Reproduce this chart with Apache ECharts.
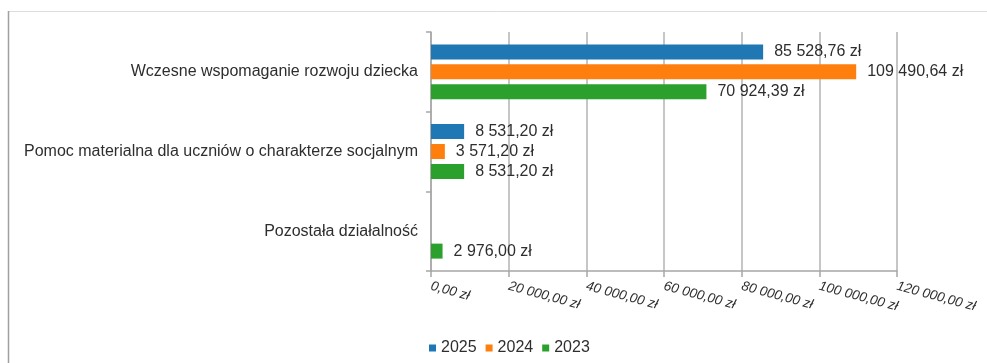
<!DOCTYPE html>
<html>
<head>
<meta charset="utf-8">
<script src="https://cdn.jsdelivr.net/npm/echarts@6/dist/echarts.min.js"></script>
<style>
  html, body { margin: 0; padding: 0; background: #ffffff; }
  #chart { width: 987px; height: 363px; }
</style>
</head>
<body>
<div id="chart"></div>
<script>
// Categories (top to bottom)
const categories = [
  'Wczesne wspomaganie rozwoju dziecka',
  'Pomoc materialna dla uczniów o charakterze socjalnym',
  'Pozostała działalność'
];

// Amounts per year, in zł
const years = ['2025', '2024', '2023'];
const values2025 = [85528.76, 8531.20, null];
const values2024 = [109490.64, 3571.20, null];
const values2023 = [70924.39, 8531.20, 2976.00];

const yearColors = ['#1f77b4', '#ff7f0e', '#2ca02c'];

// Value axis range
const axisMin = 0;
const axisMax = 120000;
const axisStep = 20000;

// Polish currency format: "85 528,76 zł"
function formatPLN(v) {
  const fixed = Number(v).toFixed(2);
  const parts = fixed.split('.');
  const intPart = parts[0].replace(/\B(?=(\d{3})+(?!\d))/g, ' ');
  return intPart + ',' + parts[1] + ' zł';
}

const textColor = '#2e2e2e';
const font = 'Liberation Sans, Arial, sans-serif';

const seriesData = [values2025, values2024, values2023];

const chart = echarts.init(document.getElementById('chart'), null, { renderer: 'canvas' });

chart.setOption({
  animation: false,
  backgroundColor: '#ffffff',
  textStyle: { fontFamily: font },
  graphic: [
    {
      type: 'line',
      shape: { x1: 8, y1: 11.5, x2: 987, y2: 11.5 },
      style: { stroke: '#dddddd', lineWidth: 1 },
      silent: true
    },
    {
      type: 'line',
      shape: { x1: 8.5, y1: 11, x2: 8.5, y2: 363 },
      style: { stroke: '#a0a0a0', lineWidth: 1.5 },
      silent: true
    }
  ],
  legend: {
    data: years,
    left: 424,
    top: 335,
    icon: 'rect',
    itemWidth: 7,
    itemHeight: 7,
    itemGap: 9,
    textStyle: { fontSize: 16, color: textColor, fontFamily: font }
  },
  grid: {
    left: 431,
    top: 32,
    width: 466,
    height: 239,
    containLabel: false
  },
  xAxis: {
    type: 'value',
    min: axisMin,
    max: axisMax,
    interval: axisStep,
    axisLine: { show: true, lineStyle: { color: '#a6a6a6', width: 1.5 } },
    axisTick: { show: true, length: 6, lineStyle: { color: '#a6a6a6', width: 1.5 } },
    splitLine: { show: true, lineStyle: { color: '#b3b3b3', width: 1.5 } },
    axisLabel: {
      rotate: -15,
      margin: 15,
      fontSize: 13.5,
      fontStyle: 'italic',
      color: textColor,
      fontFamily: font,
      formatter: function (v) { return formatPLN(v); }
    }
  },
  yAxis: {
    type: 'category',
    data: categories,
    inverse: true,
    axisLine: { show: true, lineStyle: { color: '#a6a6a6', width: 1.5 } },
    axisTick: { show: true, length: 5, lineStyle: { color: '#a6a6a6', width: 1.5 } },
    splitLine: { show: false },
    axisLabel: {
      margin: 13,
      fontSize: 16,
      color: textColor,
      fontFamily: font
    }
  },
  series: years.map(function (year, i) {
    return {
      name: year,
      type: 'bar',
      data: seriesData[i],
      barWidth: 15,
      barGap: '33%',
      itemStyle: { color: yearColors[i] },
      label: {
        show: true,
        position: 'right',
        distance: 11,
        fontSize: 16,
        color: textColor,
        fontFamily: font,
        formatter: function (p) { return formatPLN(p.value); }
      }
    };
  })
});
</script>
</body>
</html>
